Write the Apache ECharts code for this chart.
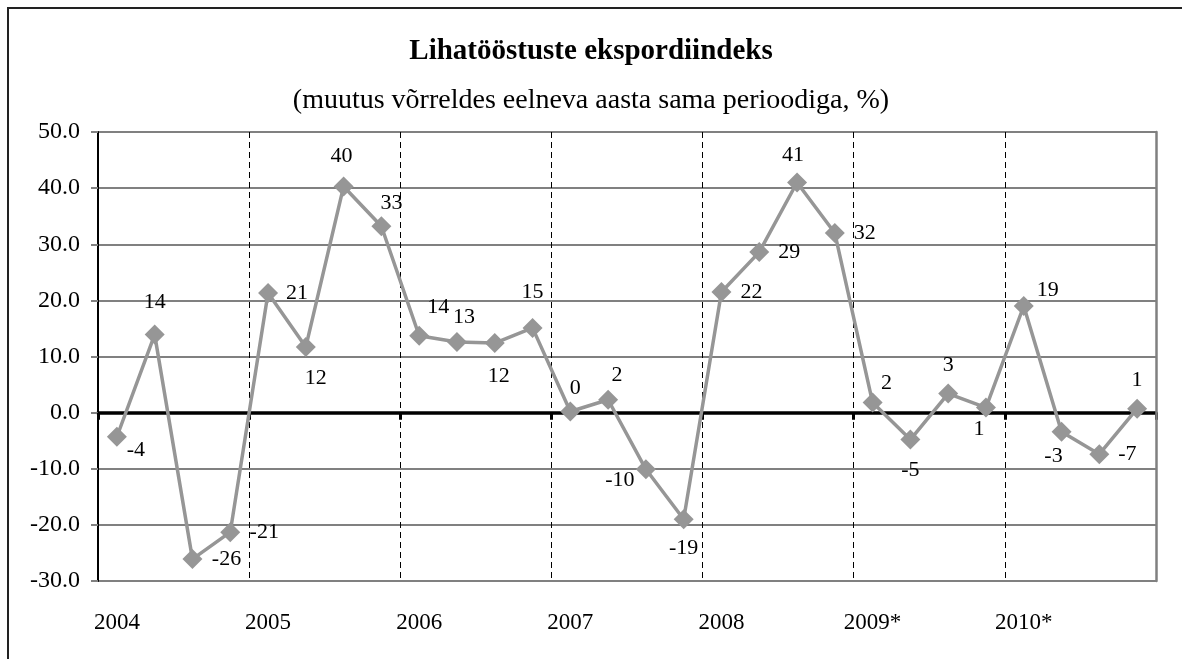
<!DOCTYPE html>
<html>
<head>
<meta charset="utf-8">
<script src="https://cdn.jsdelivr.net/npm/echarts@6/dist/echarts.min.js"></script>
<style>
  html, body { margin: 0; padding: 0; background: #fff; }
  #wrap { position: relative; width: 1182px; height: 659px; overflow: hidden; }
  #frame { position: absolute; left: 7px; top: 7px; width: 1300px; height: 800px; border: 2px solid #222; box-sizing: border-box; }
  #main { position: absolute; left: 0; top: 0; width: 1182px; height: 659px; }
</style>
</head>
<body>
<div id="wrap">
  <div id="frame"></div>
  <div id="main"></div>
</div>
<script>
// aastad (kvartalid igas aastas)
const years = ["2004", "2005", "2006", "2007", "2008", "2009*", "2010*"];
const quarters = ["I", "II", "III", "IV"];
// muutus võrreldes eelneva aasta sama perioodiga, %
const values = [
  -4.3, 13.9, -26.1, -21.3,
  21.3, 11.7, 40.3, 33.2,
  13.7, 12.6, 12.4, 15.1,
  0.2, 2.3, -10.1, -19.0,
  21.5, 28.6, 41.0, 32.0,
  1.8, -4.8, 3.4, 0.9,
  19.0, -3.4, -7.4, 0.7
];
const yTicks = [-30, -20, -10, 0, 10, 20, 30, 40, 50];

// sildi nihked punkti suhtes (ainult paigutus)
const labelOffsets = [
  [19, 13], [0, -32], [34, 0], [34, 0],
  [29, 0], [10, 31], [-2, -30], [10, -23],
  [19, -29], [7, -25], [4, 33], [0, -36],
  [5, -23], [9, -24], [-26, 11], [0, 29],
  [30, 0], [30, 0], [-4, -27], [30, 0],
  [14, -19], [0, 31], [0, -28], [-7, 22],
  [24, -16], [-8, 25], [28, 0], [0, -28]
];

const categories = [];
years.forEach(y => quarters.forEach(q => categories.push(y + " " + q)));

const seriesData = values.map((v, i) => ({
  value: v,
  label: { offset: labelOffsets[i] }
}));

const font = "'Liberation Serif', 'Times New Roman', serif";

let myChart = echarts.init(document.getElementById("main"));
myChart.setOption({
  animation: false,
  title: [
    {
      text: "Lihatööstuste ekspordiindeks",
      left: "center",
      top: 32,
      textStyle: { fontFamily: font, fontSize: 29, fontWeight: "bold", color: "#000" }
    },
    {
      text: "(muutus võrreldes eelneva aasta sama perioodiga, %)",
      left: "center",
      top: 82,
      textStyle: { fontFamily: font, fontSize: 28, fontWeight: "normal", color: "#000" }
    }
  ],
  grid: {
    left: 98,
    right: 26,
    top: 132,
    bottom: 78,
    show: false
  },
  xAxis: [
    {
      type: "category",
      data: categories,
      boundaryGap: true,
      axisLine: { onZero: true, lineStyle: { color: "#000", width: 3.5 } },
      axisTick: { show: true, interval: 3, length: 7, lineStyle: { color: "#000", width: 3 } },
      axisLabel: { show: false },
      splitLine: {
        show: true,
        interval: 3,
        lineStyle: { color: "#000", width: 1, type: [6, 4] }
      }
    },
    {
      type: "category",
      data: categories,
      boundaryGap: true,
      position: "bottom",
      axisLine: { show: false, onZero: false },
      axisTick: { show: false },
      splitLine: { show: false },
      axisLabel: {
        interval: 3,
        margin: 30,
        fontFamily: font,
        fontSize: 23,
        color: "#000",
        formatter: v => v.split(" ")[0]
      }
    }
  ],
  yAxis: [
    {
      type: "value",
      min: yTicks[0],
      max: yTicks[yTicks.length - 1],
      interval: 10,
      axisLine: { show: true, lineStyle: { color: "#000", width: 2 } },
      axisTick: { show: true, length: 7, lineStyle: { color: "#808080", width: 2 } },
      axisLabel: {
        margin: 18,
        fontFamily: font,
        fontSize: 24,
        color: "#000",
        formatter: v => v.toFixed(1)
      },
      splitLine: { show: true, lineStyle: { color: "#808080", width: 2 } }
    },
    {
      // parem raamijoon
      type: "value",
      position: "right",
      min: yTicks[0],
      max: yTicks[yTicks.length - 1],
      interval: 10,
      z: 3,
      axisLine: { show: true, onZero: false, lineStyle: { color: "#808080", width: 2.5 } },
      axisTick: { show: false },
      axisLabel: { show: false },
      splitLine: { show: false }
    }
  ],
  series: [
    {
      name: "Eksportindeks",
      type: "line",
      xAxisIndex: 0,
      yAxisIndex: 0,
      data: seriesData,
      symbol: "diamond",
      symbolSize: 20,
      lineStyle: { color: "#969696", width: 3.5 },
      itemStyle: { color: "#969696" },
      label: {
        show: true,
        position: "inside",
        fontFamily: font,
        fontSize: 22,
        color: "#000",
        formatter: p => String(Math.round(p.value))
      },
      emphasis: { disabled: true }
    }
  ]
});
</script>
</body>
</html>
